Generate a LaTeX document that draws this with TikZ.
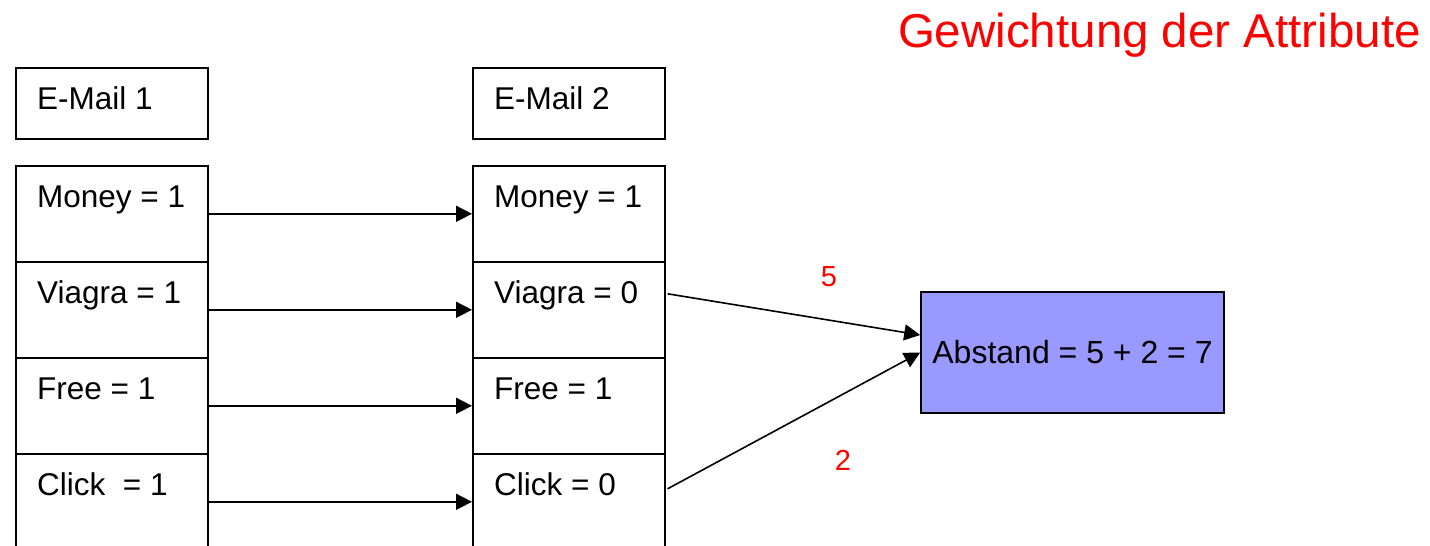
\documentclass[tikz,border=0pt]{standalone}
\usepackage{fontspec}
\setmainfont{Liberation Sans}
\usetikzlibrary{arrows.meta}
\definecolor{boxblue}{HTML}{9999FF}
\begin{document}
\begin{tikzpicture}[x=1pt,y=-1pt,
  cell/.style={draw,line width=1.6pt,minimum width=192pt,minimum height=96pt,inner sep=0pt,anchor=north west},
  headbox/.style={draw,line width=1.6pt,minimum width=192pt,minimum height=71pt,inner sep=0pt,anchor=north west},
  txt/.style={anchor=base west,inner sep=0pt,font=\fontsize{31.5}{38}\selectfont},
  lbl/.style={text=red,inner sep=0pt,font=\fontsize{29}{34}\selectfont},
  arr/.style={line width=1.6pt,-{Triangle[length=16pt,width=16pt]}}]
\useasboundingbox (0,0) rectangle (1430,546);
% title
\node[anchor=base east,inner sep=0pt,text=red,font=\fontsize{47.5}{56}\selectfont] (title) at (1421,47) {Gewichtung der Attribute};
% headers
\node[headbox] (h1) at (15,67) {};
\node[headbox] (h2) at (472,67) {};
\node[txt] (th1) at ([xshift=22pt,yshift=-42pt]h1.north west) {E-Mail 1};
\node[txt] (th2) at ([xshift=22pt,yshift=-42pt]h2.north west) {E-Mail 2};
% left column
\node[cell] (m1) at (15,165) {};
\node[cell] (v1) at (15,261) {};
\node[cell] (f1) at (15,357) {};
\node[cell] (c1) at (15,453) {};
% right column
\node[cell] (m2) at (472,165) {};
\node[cell] (v2) at (472,261) {};
\node[cell] (f2) at (472,357) {};
\node[cell] (c2) at (472,453) {};
% texts
\node[txt] (tm1) at ([xshift=22pt,yshift=-42pt]m1.north west) {Money = 1};
\node[txt] (tv1) at ([xshift=22pt,yshift=-42pt]v1.north west) {Viagra = 1};
\node[txt] (tf1) at ([xshift=22pt,yshift=-42pt]f1.north west) {Free = 1};
\node[txt] (tc1) at ([xshift=22pt,yshift=-42pt]c1.north west) {Click\ \ = 1};
\node[txt] (tm2) at ([xshift=22pt,yshift=-42pt]m2.north west) {Money = 1};
\node[txt] (tv2) at ([xshift=22pt,yshift=-42pt]v2.north west) {Viagra = 0};
\node[txt] (tf2) at ([xshift=22pt,yshift=-42pt]f2.north west) {Free = 1};
\node[txt] (tc2) at ([xshift=22pt,yshift=-42pt]c2.north west) {Click = 0};
% result box
\node[draw,line width=1.6pt,fill=boxblue,minimum width=303pt,minimum height=121pt,inner sep=0pt,font=\fontsize{32}{38}\selectfont] (abst) at (1072.5,352.5) {Abstand = 5 + 2 = 7};
% arrows
\draw[arr] (m1.east) -- (m2.west);
\draw[arr] (v1.east) -- (v2.west);
\draw[arr] (f1.east) -- (f2.west);
\draw[arr] (c1.east) -- (c2.west);
\draw[arr] ([xshift=2pt,yshift=16pt]v2.east) -- ([yshift=17.5pt]abst.west);
\draw[arr] ([xshift=2pt,yshift=13pt]c2.east) -- ([yshift=0pt]abst.west);
% weights
\node[lbl] (w5) at (829,277) {5};
\node[lbl] (w2) at (843,460) {2};
\end{tikzpicture}
\end{document}
